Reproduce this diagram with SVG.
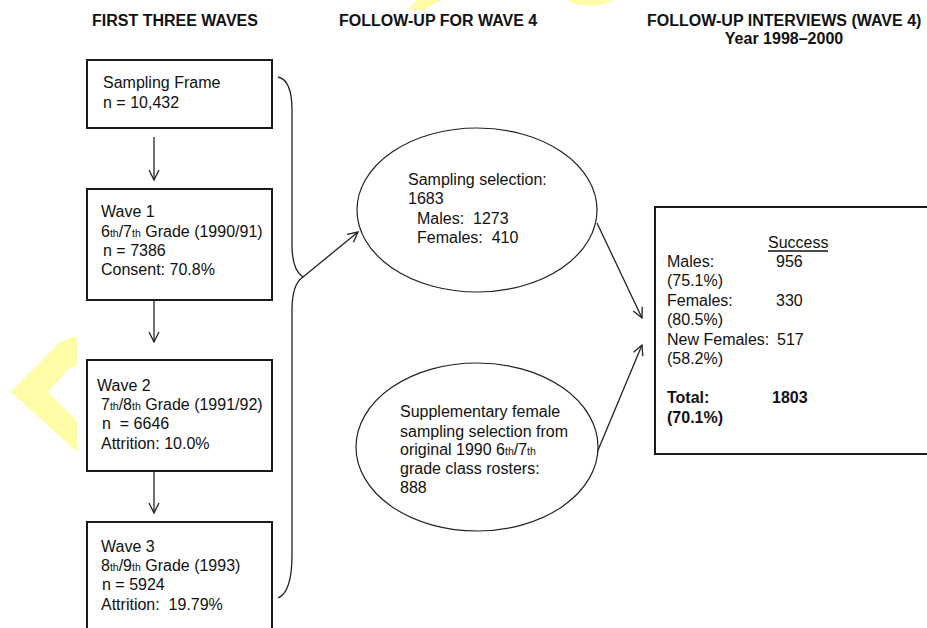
<svg xmlns="http://www.w3.org/2000/svg" width="927" height="628" viewBox="0 0 927 628">
<defs>
<style>
.t{font-family:"Liberation Sans",Arial,sans-serif;font-size:16px;fill:#111}
.h{font-family:"Liberation Sans",Arial,sans-serif;font-size:16px;font-weight:bold;fill:#111}
.b{font-weight:bold}
.s{font-size:10.5px}
.box{fill:#fff;stroke:#1a1a1a;stroke-width:2}
.ell{fill:#fff;stroke:#222;stroke-width:1.2}
.con{fill:none;stroke:#222;stroke-width:1.3}
.wm{fill:#FFFCA8}
</style>
<marker id="ah" viewBox="0 0 12 12" refX="11" refY="6" markerWidth="12" markerHeight="12" markerUnits="userSpaceOnUse" orient="auto">
<path d="M1,1 L11,6 L1,11" fill="none" stroke="#222" stroke-width="1.3"/>
</marker>
</defs>
<rect width="927" height="628" fill="#fff"/>
<g id="watermark">
<path class="wm" d="M566,0 A52,52 0 0 0 614,0 Z"/>
<path class="wm" d="M417,0 L441,0 L424,10 L408,10 Z"/>
<path class="wm" d="M11,392 L58,344 Q68,337 77,337 L77,366 Q71,366 67,371 L48,392 L77,421 L77,452 Z"/>
</g>
<g id="headers">
<text class="h" x="92" y="26">FIRST THREE WAVES</text>
<text class="h" x="339" y="26">FOLLOW-UP FOR WAVE 4</text>
<text class="h" x="647" y="26">FOLLOW-UP INTERVIEWS (WAVE 4)</text>
<text class="h" x="784" y="44" text-anchor="middle">Year 1998–2000</text>
</g>
<g id="connectors">
<line class="con" x1="154" y1="137" x2="154" y2="180" marker-end="url(#ah)"/>
<line class="con" x1="154" y1="300" x2="154" y2="342" marker-end="url(#ah)"/>
<line class="con" x1="154" y1="471" x2="154" y2="513" marker-end="url(#ah)"/>
<path class="con" d="M278,77 Q292,80 292,110 L292,245 Q292,270 303,277 Q292,284 292,310 L292,555 Q292,592 278,598"/>
<line class="con" x1="303" y1="277" x2="358" y2="232" marker-end="url(#ah)"/>
<line class="con" x1="597" y1="223" x2="642" y2="318" marker-end="url(#ah)"/>
<line class="con" x1="596" y1="455" x2="642" y2="345" marker-end="url(#ah)"/>
</g>
<g id="frame">
<rect class="box" x="87" y="60" width="185" height="68"/>
<text class="t" x="103" y="88">Sampling Frame</text>
<text class="t" x="103" y="108">n = 10,432</text>
</g>
<g id="wave1">
<rect class="box" x="87" y="189" width="185" height="111"/>
<text class="t" x="101" y="217">Wave 1</text>
<text class="t" x="101" y="237">6<tspan class="s">th</tspan>/7<tspan class="s">th</tspan> Grade (1990/91)</text>
<text class="t" x="103" y="256">n = 7386</text>
<text class="t" x="101" y="275">Consent: 70.8%</text>
</g>
<g id="wave2">
<rect class="box" x="87" y="360" width="185" height="111"/>
<text class="t" x="97" y="391">Wave 2</text>
<text class="t" x="101" y="410">7<tspan class="s">th</tspan>/8<tspan class="s">th</tspan> Grade (1991/92)</text>
<text class="t" x="102" y="429" xml:space="preserve">n  = 6646</text>
<text class="t" x="101" y="449">Attrition: 10.0%</text>
</g>
<g id="wave3">
<rect class="box" x="87" y="522" width="185" height="130"/>
<text class="t" x="101" y="552">Wave 3</text>
<text class="t" x="101" y="571">8<tspan class="s">th</tspan>/9<tspan class="s">th</tspan> Grade (1993)</text>
<text class="t" x="102" y="590">n = 5924</text>
<text class="t" x="101" y="610" xml:space="preserve">Attrition:  19.79%</text>
</g>
<g id="selection">
<ellipse class="ell" cx="477" cy="210" rx="120" ry="82"/>
<text class="t" x="408" y="185">Sampling selection:</text>
<text class="t" x="408" y="204">1683</text>
<text class="t" x="417" y="224" xml:space="preserve">Males:  1273</text>
<text class="t" x="417" y="243" xml:space="preserve">Females:  410</text>
</g>
<g id="supplementary">
<ellipse class="ell" cx="477" cy="447" rx="121" ry="84"/>
<text class="t" x="400" y="417">Supplementary female</text>
<text class="t" x="400" y="437">sampling selection from</text>
<text class="t" x="400" y="455">original 1990 6<tspan class="s">th</tspan>/7<tspan class="s">th</tspan></text>
<text class="t" x="400" y="474">grade class rosters:</text>
<text class="t" x="400" y="493">888</text>
</g>
<g id="results">
<rect class="box" x="655" y="207" width="300" height="247"/>
<text class="t" x="768" y="248">Success</text>
<line x1="768" y1="251" x2="828" y2="251" stroke="#111" stroke-width="1.3"/>
<text class="t" x="667" y="267">Males:</text>
<text class="t" x="776" y="267">956</text>
<text class="t" x="667" y="286">(75.1%)</text>
<text class="t" x="667" y="306">Females:</text>
<text class="t" x="776" y="306">330</text>
<text class="t" x="667" y="325">(80.5%)</text>
<text class="t" x="667" y="345">New Females:</text>
<text class="t" x="777" y="345">517</text>
<text class="t" x="667" y="364">(58.2%)</text>
<text class="t b" x="667" y="403">Total:</text>
<text class="t b" x="772" y="403">1803</text>
<text class="t b" x="667" y="423">(70.1%)</text>
</g>
</svg>
